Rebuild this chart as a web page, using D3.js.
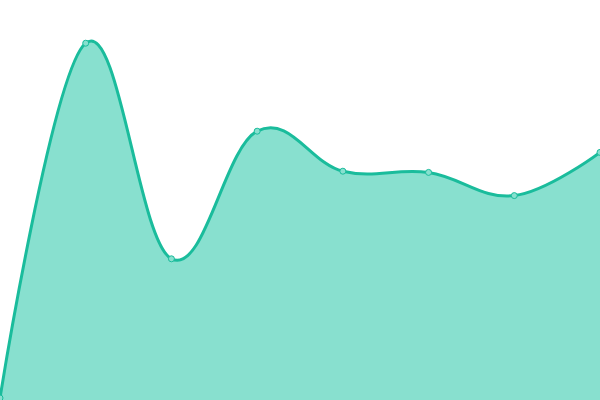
<!DOCTYPE html>
<html>
<head>
<meta charset="utf-8">
<script src="https://cdn.jsdelivr.net/npm/d3@7"></script>
<style>
  html, body { margin: 0; padding: 0; background: #fff; overflow: hidden; }
  svg { display: block; }
</style>
</head>
<body>
<svg id="chart"></svg>
<script>
const labels = ['1', '2', '3', '4', '5', '6', '7', '8'];
const values = [0.5, 89.2, 35.3, 67.2, 57.2, 56.9, 51.1, 61.9];

const width = 600;
const height = 400;

const svg = d3.select('#chart')
    .attr('width', width)
    .attr('height', height);

const xScale = d3.scalePoint()
    .domain(labels)
    .range([0, width]);

const yScale = d3.scaleLinear()
    .domain([0, 100])
    .range([height, 0]);

// a bit looser than catmull-rom, the reference overshoots past the points
const curve = d3.curveCardinal.tension(-0.15);

const area = d3.area()
    .x((d, i) => xScale(labels[i]))
    .y0(height)
    .y1(d => yScale(d))
    .curve(curve);

const line = d3.line()
    .x((d, i) => xScale(labels[i]))
    .y(d => yScale(d))
    .curve(curve);

svg.append('path')
    .datum(values)
    .attr('d', area)
    .attr('fill', '#88e0cf');

svg.append('path')
    .datum(values)
    .attr('d', line)
    .attr('fill', 'none')
    .attr('stroke', '#1abc9c')
    .attr('stroke-width', 3);

svg.selectAll('circle.pt')
    .data(values)
    .enter()
    .append('circle')
    .classed('pt', true)
    .attr('cx', (d, i) => xScale(labels[i]))
    .attr('cy', d => yScale(d))
    .attr('r', 3)
    .attr('fill', '#88e0cf')
    .attr('stroke', '#1abc9c')
    .attr('stroke-width', 1);
</script>
</body>
</html>
